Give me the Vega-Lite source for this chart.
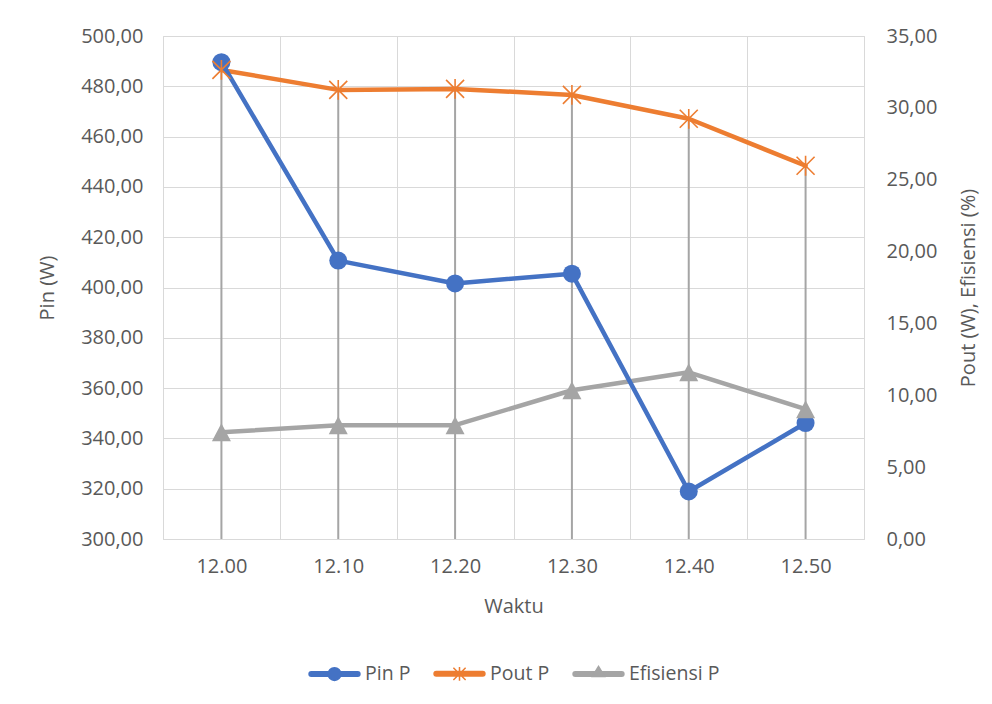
{
  "$schema": "https://vega.github.io/schema/vega-lite/v6.json",
  "width": 992,
  "height": 704,
  "autosize": {"type": "fit", "contains": "padding"},
  "padding": {"left": 37, "right": 13, "top": 26, "bottom": 20},
  "background": "white",
  "data": {
    "values": [
      {"Waktu": "12.00", "Seri": "Pin P", "Nilai": 489.6},
      {"Waktu": "12.10", "Seri": "Pin P", "Nilai": 410.7},
      {"Waktu": "12.20", "Seri": "Pin P", "Nilai": 401.6},
      {"Waktu": "12.30", "Seri": "Pin P", "Nilai": 405.5},
      {"Waktu": "12.40", "Seri": "Pin P", "Nilai": 318.9},
      {"Waktu": "12.50", "Seri": "Pin P", "Nilai": 346.1},
      {"Waktu": "12.00", "Seri": "Pout P", "Nilai": 32.64},
      {"Waktu": "12.10", "Seri": "Pout P", "Nilai": 31.25},
      {"Waktu": "12.20", "Seri": "Pout P", "Nilai": 31.32},
      {"Waktu": "12.30", "Seri": "Pout P", "Nilai": 30.9},
      {"Waktu": "12.40", "Seri": "Pout P", "Nilai": 29.24},
      {"Waktu": "12.50", "Seri": "Pout P", "Nilai": 25.97},
      {"Waktu": "12.00", "Seri": "Efisiensi P", "Nilai": 7.43},
      {"Waktu": "12.10", "Seri": "Efisiensi P", "Nilai": 7.92},
      {"Waktu": "12.20", "Seri": "Efisiensi P", "Nilai": 7.92},
      {"Waktu": "12.30", "Seri": "Efisiensi P", "Nilai": 10.35},
      {"Waktu": "12.40", "Seri": "Efisiensi P", "Nilai": 11.6},
      {"Waktu": "12.50", "Seri": "Efisiensi P", "Nilai": 9.03}
    ]
  },
  "encoding": {
    "x": {
      "field": "Waktu",
      "type": "nominal",
      "sort": null,
      "bandPosition": 0.5,
      "scale": {"type": "band", "paddingInner": 0, "paddingOuter": 0},
      "axis": {
        "title": "Waktu",
        "labelAngle": 0,
        "tickBand": "extent",
        "grid": true,
        "labelPadding": 17,
        "titlePadding": 20
      }
    }
  },
  "layer": [
    {
      "transform": [{"filter": "datum.Seri === 'Pout P'"}],
      "mark": {"type": "rule", "color": "#a5a5a5", "strokeWidth": 2},
      "encoding": {
        "y": {"field": "Nilai", "type": "quantitative", "scale": {"domain": [0, 35]}, "axis": null},
        "y2": {"datum": 0}
      }
    },
    {
      "transform": [{"filter": "datum.Seri !== 'Pin P'"}],
      "mark": {"type": "line", "strokeWidth": 4.5, "strokeJoin": "round", "strokeCap": "round"},
      "encoding": {
        "y": {"field": "Nilai", "type": "quantitative", "scale": {"domain": [0, 35]}, "axis": null},
        "color": {
          "field": "Seri",
          "type": "nominal",
          "scale": {
            "domain": ["Pin P", "Pout P", "Efisiensi P"],
            "range": ["#4472C4", "#ED7D31", "#A5A5A5"]
          },
          "legend": {
            "orient": "bottom",
            "direction": "horizontal",
            "title": null,
            "offset": 31,
            "symbolSize": 2601,
            "labelOffset": 4,
            "columnPadding": 20,
            "labelFont": "Open Sans",
            "labelFontSize": 19.5,
            "labelColor": "#595959",
            "encode": {
              "symbols": {
                "update": {
                  "shape": {
                    "signal": "datum.value === 'Pin P' ? 'M-0.91,-0.088H0.91A0.088,0.088 0 0,1 0.91,0.088H-0.91A0.088,0.088 0 0,1 -0.91,-0.088Z M-0.25,0A0.25,0.25 0 1,1 0.25,0A0.25,0.25 0 1,1 -0.25,0Z' : datum.value === 'Pout P' ? 'M-0.91,-0.088H0.91A0.088,0.088 0 0,1 0.91,0.088H-0.91A0.088,0.088 0 0,1 -0.91,-0.088Z M-0.24,-0.24L0.24,0.24M-0.24,0.24L0.24,-0.24M0,-0.27L0,0.27' : 'M-0.91,-0.088H0.91A0.088,0.088 0 0,1 0.91,0.088H-0.91A0.088,0.088 0 0,1 -0.91,-0.088Z M0,-0.3L0.24,0.1L-0.24,0.1Z'"
                  },
                  "fill": {"scale": "color", "field": "value"},
                  "stroke": {"scale": "color", "field": "value"},
                  "strokeWidth": {"value": 1.5},
                  "opacity": {"value": 1}
                }
              }
            }
          }
        }
      }
    },
    {
      "transform": [{"filter": "datum.Seri === 'Pin P'"}],
      "encoding": {
        "y": {
          "field": "Nilai",
          "type": "quantitative",
          "scale": {"domain": [300, 500]},
          "axis": {
            "orient": "left",
            "title": "Pin (W)",
            "values": [300, 320, 340, 360, 380, 400, 420, 440, 460, 480, 500],
            "labelExpr": "replace(format(datum.value, '.2f'), '.', ',')",
            "grid": true,
            "labelPadding": 20,
            "titlePadding": 23
          }
        }
      },
      "layer": [
        {"mark": {"type": "line", "color": "#4472C4", "strokeWidth": 4.5, "strokeJoin": "round", "strokeCap": "round"}},
        {"mark": {"type": "point", "shape": "circle", "filled": true, "color": "#4472C4", "size": 324, "opacity": 1}}
      ]
    },
    {
      "encoding": {
        "y": {
          "field": "Nilai",
          "type": "quantitative",
          "scale": {"domain": [0, 35]},
          "axis": {
            "orient": "right",
            "title": "Pout (W), Efisiensi (%)",
            "titleAngle": 270,
            "values": [0, 5, 10, 15, 20, 25, 30, 35],
            "labelExpr": "replace(format(datum.value, '.2f'), '.', ',')",
            "grid": false,
            "labelPadding": 22,
            "titlePadding": 42
          }
        }
      },
      "layer": [
        {
          "transform": [{"filter": "datum.Seri === 'Pout P'"}],
          "mark": {
            "type": "point",
            "shape": "M-1,-1L1,1M-1,1L1,-1M0,-1.1L0,1.1",
            "filled": false,
            "color": "#ED7D31",
            "strokeWidth": 1.6,
            "size": 324,
            "opacity": 1
          }
        },
        {
          "transform": [{"filter": "datum.Seri === 'Efisiensi P'"}],
          "mark": {
            "type": "point",
            "shape": "M0,-0.95L1,0.95L-1,0.95Z",
            "filled": true,
            "color": "#A5A5A5",
            "size": 361,
            "opacity": 1
          }
        }
      ]
    }
  ],
  "resolve": {"scale": {"y": "independent"}},
  "config": {
    "font": "Open Sans",
    "view": {"stroke": "#d9d9d9", "strokeWidth": 1},
    "axis": {
      "labelFont": "Open Sans",
      "labelFontSize": 20,
      "labelColor": "#595959",
      "titleFont": "Open Sans",
      "titleFontSize": 20,
      "titleFontWeight": "normal",
      "titleColor": "#595959",
      "ticks": false,
      "domain": false,
      "gridColor": "#d9d9d9",
      "gridWidth": 1
    },
    "legend": {
      "layout": {"bottom": {"anchor": "middle"}}
    }
  }
}
